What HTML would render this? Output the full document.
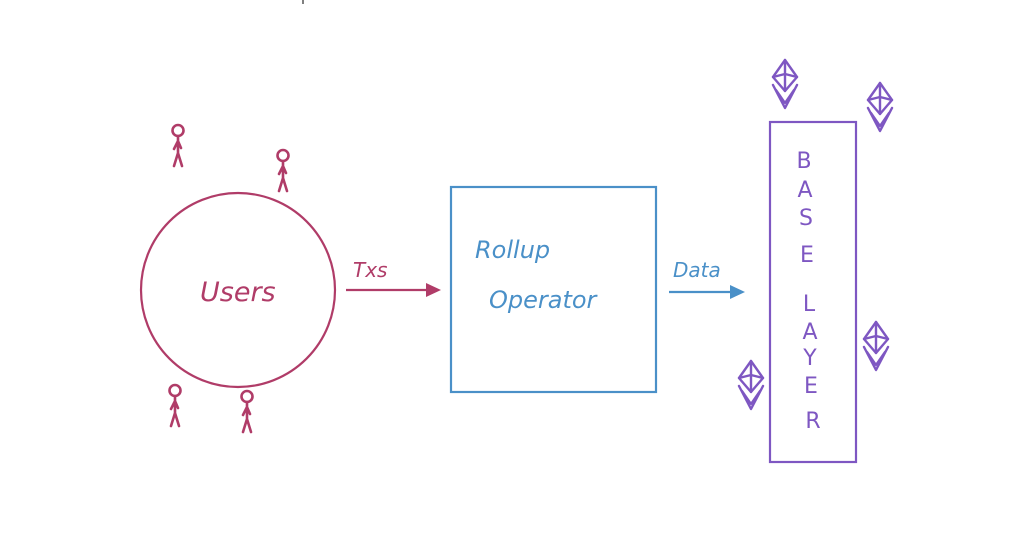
<!DOCTYPE html>
<html><head><meta charset="utf-8"><style>
html,body{margin:0;padding:0;background:#fff;}
svg{display:block;}
text{font-family:"DejaVu Sans","Liberation Sans",sans-serif;font-style:italic;}
text.up{font-style:normal;}
</style></head><body>
<svg width="1032" height="558" viewBox="0 0 1032 558" xmlns="http://www.w3.org/2000/svg">
<defs>
<g id="eth" fill="none" stroke="#7e57c2" stroke-width="2.4" stroke-linejoin="round" stroke-linecap="round">
<path d="M0,0 L12,17 L0,31 L-12,17 Z"/>
<path d="M0,0 L0,31 M-12,17 L0,14 L12,17"/>
<path d="M-12,25 L0,48 L12,25"/>
<path d="M-9,30 L0,43 L9,30"/>
</g>
<g id="person" fill="none" stroke="#b03c68" stroke-width="2.6" stroke-linecap="round">
<circle cx="0" cy="5.5" r="5.5"/>
<path d="M0,11 L0,28 M0,28 L-4,41 M0,28 L4,41 M0,16 L-4,24 M0,16 L3,23"/>
</g>
</defs>
<line x1="303" y1="0" x2="303" y2="4" stroke="#000" stroke-width="1"/>
<circle cx="238" cy="290" r="97" fill="none" stroke="#b03c68" stroke-width="2.2"/>
<text x="200" y="301" font-size="27" fill="#b03c68">Users</text>
<use href="#person" x="178" y="125"/>
<use href="#person" x="283" y="150"/>
<use href="#person" x="175" y="385"/>
<use href="#person" x="247" y="391"/>
<line x1="346" y1="290" x2="428" y2="290" stroke="#b03c68" stroke-width="2.2"/>
<polygon points="426,283 441,290 426,297" fill="#b03c68"/>
<text x="353" y="277" font-size="20" fill="#b03c68">Txs</text>
<rect x="451" y="187" width="205" height="205" fill="none" stroke="#4a90c8" stroke-width="2.2"/>
<text x="475" y="258" font-size="24" fill="#4a90c8">Rollup</text>
<text x="489" y="308" font-size="24" fill="#4a90c8">Operator</text>
<line x1="669" y1="292" x2="732" y2="292" stroke="#4a90c8" stroke-width="2.2"/>
<polygon points="730,285 745,292 730,299" fill="#4a90c8"/>
<text x="673" y="277" font-size="20" fill="#4a90c8">Data</text>
<rect x="770" y="122" width="86" height="340" fill="none" stroke="#7e57c2" stroke-width="2.2"/>
<g font-size="22" fill="#7e57c2" text-anchor="middle">
<text class="up" x="804" y="168">B</text>
<text class="up" x="805" y="197">A</text>
<text class="up" x="806" y="225">S</text>
<text class="up" x="807" y="262">E</text>
<text class="up" x="809" y="311">L</text>
<text class="up" x="810" y="339">A</text>
<text class="up" x="810" y="365">Y</text>
<text class="up" x="811" y="393">E</text>
<text class="up" x="813" y="428">R</text>
</g>
<use href="#eth" x="785" y="60"/>
<use href="#eth" x="880" y="83"/>
<use href="#eth" x="876" y="322"/>
<use href="#eth" x="751" y="361"/>
</svg>
</body></html>
